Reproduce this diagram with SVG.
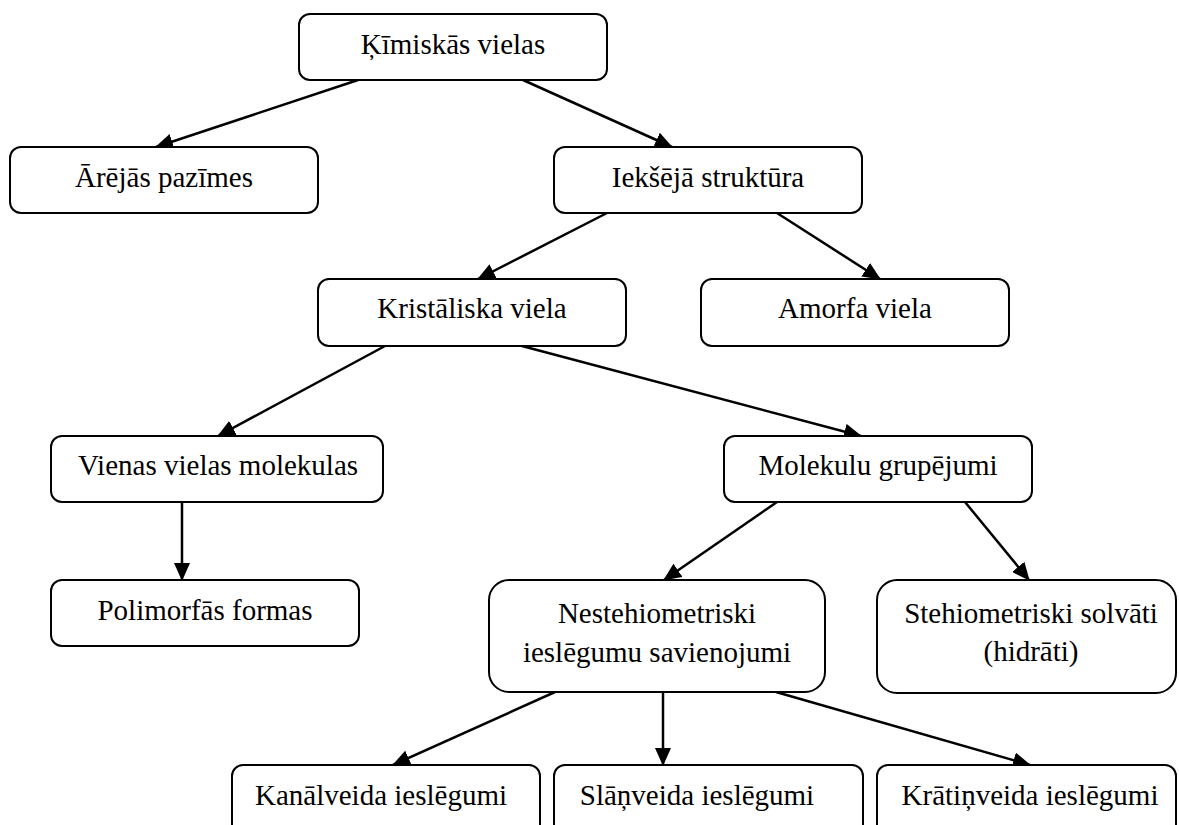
<svg xmlns="http://www.w3.org/2000/svg" width="1179" height="825" viewBox="0 0 1179 825">
<style>
.box{fill:#fff;stroke:#000;stroke-width:2}
.t{font-family:'Liberation Serif',serif;font-size:29px;fill:#000;text-anchor:middle}
.c{stroke:#000;stroke-width:2.5;fill:none;marker-end:url(#ah)}
</style>
<defs>
<marker id="ah" markerUnits="userSpaceOnUse" markerWidth="18" markerHeight="16" refX="17" refY="8" orient="auto" viewBox="0 0 18 16">
<path d="M0,0 L18,8 L0,16 z" fill="#000"/>
</marker>
</defs>
<rect width="1179" height="825" fill="#fff"/>
<g id="connectors">
<line class="c" x1="358" y1="80" x2="156" y2="147"/>
<line class="c" x1="523" y1="80" x2="672" y2="147"/>
<line class="c" x1="607" y1="213" x2="478" y2="279"/>
<line class="c" x1="777" y1="213" x2="880" y2="279"/>
<line class="c" x1="385" y1="346" x2="218" y2="436"/>
<line class="c" x1="522" y1="346" x2="861" y2="436"/>
<line class="c" x1="182" y1="502" x2="182" y2="580"/>
<line class="c" x1="777" y1="502" x2="664" y2="580"/>
<line class="c" x1="965" y1="502" x2="1029" y2="580"/>
<line class="c" x1="555" y1="692" x2="393" y2="765"/>
<line class="c" x1="663" y1="692" x2="663" y2="765"/>
<line class="c" x1="776" y1="692" x2="1030" y2="765"/>
</g>
<g id="n1"><rect class="box" x="299" y="14" width="308" height="66" rx="11"/><text class="t" font-family="Liberation Serif, serif" x="453" y="54">Ķīmiskās vielas</text></g>
<g id="n2"><rect class="box" x="10" y="147" width="308" height="66" rx="11"/><text class="t" font-family="Liberation Serif, serif" x="164" y="187">Ārējās pazīmes</text></g>
<g id="n3"><rect class="box" x="554" y="147" width="308" height="66" rx="11"/><text class="t" font-family="Liberation Serif, serif" x="708" y="187">Iekšējā struktūra</text></g>
<g id="n4"><rect class="box" x="318" y="279" width="308" height="67" rx="11"/><text class="t" font-family="Liberation Serif, serif" x="472" y="318">Kristāliska viela</text></g>
<g id="n5"><rect class="box" x="701" y="279" width="308" height="67" rx="11"/><text class="t" font-family="Liberation Serif, serif" x="855" y="318">Amorfa viela</text></g>
<g id="n6"><rect class="box" x="51" y="436" width="332" height="66" rx="11"/><text class="t" font-family="Liberation Serif, serif" x="218" y="475">Vienas vielas molekulas</text></g>
<g id="n7"><rect class="box" x="724" y="436" width="308" height="66" rx="11"/><text class="t" font-family="Liberation Serif, serif" x="878" y="475">Molekulu grupējumi</text></g>
<g id="n8"><rect class="box" x="51" y="580" width="308" height="66" rx="11"/><text class="t" font-family="Liberation Serif, serif" x="205" y="620">Polimorfās formas</text></g>
<g id="n9"><rect class="box" x="489" y="580" width="336" height="112" rx="20"/><text class="t" font-family="Liberation Serif, serif" x="657" y="623">Nestehiometriski</text><text class="t" font-family="Liberation Serif, serif" x="657" y="662">ieslēgumu savienojumi</text></g>
<g id="n10"><rect class="box" x="877" y="580" width="299" height="113" rx="20"/><text class="t" font-family="Liberation Serif, serif" x="1031" y="623">Stehiometriski solvāti</text><text class="t" font-family="Liberation Serif, serif" x="1031" y="661">(hidrāti)</text></g>
<g id="n11"><rect class="box" x="232" y="765" width="308" height="85" rx="11"/><text class="t" font-family="Liberation Serif, serif" x="381" y="805">Kanālveida ieslēgumi</text></g>
<g id="n12"><rect class="box" x="554" y="765" width="309" height="85" rx="11"/><text class="t" font-family="Liberation Serif, serif" x="697" y="805">Slāņveida ieslēgumi</text></g>
<g id="n13"><rect class="box" x="877" y="765" width="299" height="85" rx="11"/><text class="t" font-family="Liberation Serif, serif" x="1030" y="805">Krātiņveida ieslēgumi</text></g>
</svg>
